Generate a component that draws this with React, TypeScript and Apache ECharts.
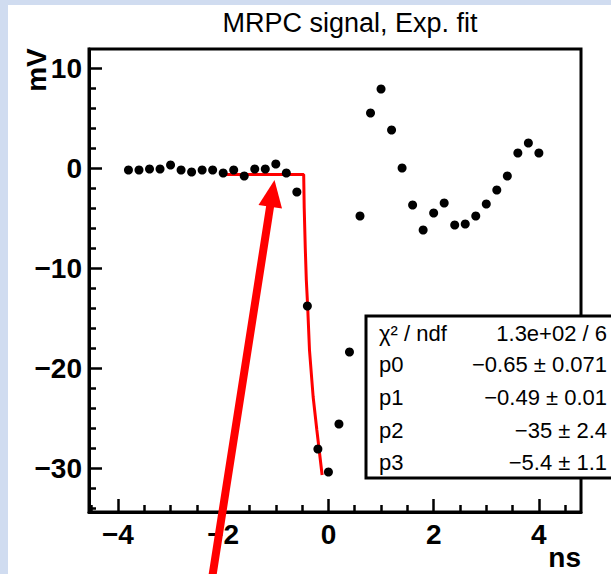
import React, { useEffect, useRef } from "react";
import * as echarts from "echarts";

// ---- data ----
const xValues = [
  -3.8, -3.6, -3.4, -3.2, -3.0, -2.8, -2.6, -2.4, -2.2, -2.0,
  -1.8, -1.6, -1.4, -1.2, -1.0, -0.8, -0.6, -0.4, -0.2, 0.0,
  0.2, 0.4, 0.6, 0.8, 1.0, 1.2, 1.4, 1.6, 1.8, 2.0,
  2.2, 2.4, 2.6, 2.8, 3.0, 3.2, 3.4, 3.6, 3.8, 4.0,
];
const yValues = [
  -0.2, -0.2, -0.1, -0.1, 0.3, -0.2, -0.4, -0.2, -0.2, -0.5,
  -0.2, -0.8, -0.1, -0.1, 0.4, -0.5, -2.4, -13.8, -28.1, -30.4,
  -25.6, -18.4, -4.8, 5.5, 7.9, 3.8, 0.0, -3.7, -6.2, -4.5,
  -3.5, -5.7, -5.6, -4.8, -3.6, -2.2, -0.8, 1.5, 2.5, 1.5,
];
const fitX = [-1.95, -0.47, -0.46, -0.44, -0.42, -0.395, -0.36, -0.29, -0.22, -0.12];
const fitY = [-0.65, -0.65, -4.0, -8.0, -11.2, -13.8, -18.2, -22.9, -26.2, -30.7];

const xMajorTicks = [-4, -2, 0, 2, 4];
const xMinorTicks = [-4.5, -3.5, -3, -2.5, -1.5, -1, -0.5, 0.5, 1, 1.5, 2.5, 3, 3.5, 4.5];
const yMajorTicks = [-30, -20, -10, 0, 10];
const yMinorTicks = [-34, -32, -28, -26, -24, -22, -18, -16, -14, -12, -8, -6, -4, -2, 2, 4, 6, 8];

const titleText = "MRPC signal, Exp. fit";
const xAxisTitle = "ns";
const yAxisTitle = "mV";
const statLabels = ["χ² / ndf", "p0", "p1", "p2", "p3"];
const statValues = ["1.3e+02 / 6", "−0.65 ± 0.071", "−0.49 ± 0.01", "−35 ± 2.4", "−5.4 ± 1.1"];

const X_MIN = -4.55;
const X_MAX = 4.8;
const Y_MIN = -34.4;
const Y_MAX = 11.9;

const FONT = "'Liberation Sans', Arial, Helvetica, sans-serif";

const fmt = (v: number) => (v < 0 ? "\u2212" + Math.abs(v) : String(v));

export default function App() {
  const ref = useRef<HTMLDivElement>(null);

  useEffect(() => {
    if (!ref.current) return;
    const chart = echarts.init(ref.current, undefined, { renderer: "svg" });

    const tickLine = { color: "#000", width: 2.5 };
    const labelStyle = {
      color: "#000",
      fontSize: 28,
      fontWeight: "bold" as const,
      fontFamily: FONT,
    };

    const statRowsY = [333, 364, 397, 430, 462];

    const graphics: any[] = [
      { type: "rect", z: 0, shape: { x: 0, y: 0, width: 8, height: 574 }, style: { fill: "#d0dcf0" } },
      { type: "rect", z: 0, shape: { x: 0, y: 0, width: 611, height: 5 }, style: { fill: "#d0dcf0" } },
      {
        type: "text",
        z: 100,
        x: 350,
        y: 23,
        style: {
          text: titleText,
          fill: "#000",
          font: `normal 27px ${FONT}`,
          align: "center",
          verticalAlign: "middle",
        },
      },
      {
        type: "text",
        z: 100,
        x: 36,
        y: 70,
        rotation: Math.PI / 2,
        style: {
          text: yAxisTitle,
          fill: "#000",
          font: `bold 28px ${FONT}`,
          align: "center",
          verticalAlign: "middle",
        },
      },
      {
        type: "text",
        z: 100,
        x: 581,
        y: 557,
        style: {
          text: xAxisTitle,
          fill: "#000",
          font: `bold 28px ${FONT}`,
          align: "right",
          verticalAlign: "middle",
        },
      },
      {
        type: "rect",
        z: 100,
        shape: { x: 366, y: 316, width: 270, height: 162 },
        style: { fill: "#fff", stroke: "#000", lineWidth: 3 },
      },
    ];
    statLabels.forEach((t, i) => {
      graphics.push({
        type: "text",
        z: 101,
        x: 379,
        y: statRowsY[i],
        style: { text: t, fill: "#000", font: `normal 22px ${FONT}`, align: "left", verticalAlign: "middle" },
      });
      graphics.push({
        type: "text",
        z: 101,
        x: 607,
        y: statRowsY[i],
        style: { text: statValues[i], fill: "#000", font: `normal 22px ${FONT}`, align: "right", verticalAlign: "middle" },
      });
    });
    graphics.push({
      type: "line",
      z: 110,
      shape: { x1: 211, y1: 585, x2: 270.5, y2: 204 },
      style: { stroke: "#ff0000", lineWidth: 8 },
    });
    graphics.push({
      type: "polygon",
      z: 110,
      shape: { points: [[274.5, 180], [258.5, 205], [282, 208.5]] },
      style: { fill: "#ff0000" },
    });

    const option: any = {
      animation: false,
      backgroundColor: "#ffffff",
      grid: {
        left: 89,
        top: 49,
        width: 492,
        height: 463,
        show: true,
        borderColor: "#000",
        borderWidth: 3,
        backgroundColor: "transparent",
      },
      xAxis: [
        {
          type: "value",
          min: X_MIN,
          max: X_MAX,
          position: "bottom",
          axisLine: { show: true, onZero: false, lineStyle: { color: "#000", width: 3 } },
          axisTick: { show: true, inside: true, length: 13, lineStyle: tickLine, customValues: xMajorTicks },
          axisLabel: { show: true, customValues: xMajorTicks, formatter: fmt, margin: 8, ...labelStyle },
          splitLine: { show: false },
        },
        {
          type: "value",
          min: X_MIN,
          max: X_MAX,
          position: "bottom",
          axisLine: { show: false, onZero: false },
          axisTick: { show: true, inside: true, length: 7, lineStyle: tickLine, customValues: xMinorTicks },
          axisLabel: { show: false },
          splitLine: { show: false },
        },
      ],
      yAxis: [
        {
          type: "value",
          min: Y_MIN,
          max: Y_MAX,
          position: "left",
          axisLine: { show: true, onZero: false, lineStyle: { color: "#000", width: 3 } },
          axisTick: { show: true, inside: true, length: 13, lineStyle: tickLine, customValues: yMajorTicks },
          axisLabel: { show: true, customValues: yMajorTicks, formatter: fmt, margin: 7, ...labelStyle },
          splitLine: { show: false },
        },
        {
          type: "value",
          min: Y_MIN,
          max: Y_MAX,
          position: "left",
          axisLine: { show: false, onZero: false },
          axisTick: { show: true, inside: true, length: 7, lineStyle: tickLine, customValues: yMinorTicks },
          axisLabel: { show: false },
          splitLine: { show: false },
        },
      ],
      series: [
        {
          type: "line",
          xAxisIndex: 0,
          yAxisIndex: 0,
          data: fitX.map((x, i) => [x, fitY[i]]),
          symbol: "none",
          showSymbol: false,
          lineStyle: { color: "#ff0000", width: 3 },
          z: 2,
          silent: true,
        },
        {
          type: "scatter",
          xAxisIndex: 0,
          yAxisIndex: 0,
          data: xValues.map((x, i) => [x, yValues[i]]),
          symbol: "circle",
          symbolSize: 9,
          itemStyle: { color: "#000", opacity: 1 },
          z: 3,
        },
      ],
      graphic: graphics,
    };

    chart.setOption(option);
    return () => chart.dispose();
  }, []);

  return (
    <div
      ref={ref}
      style={{ position: "fixed", left: 0, top: 0, width: 611, height: 574 }}
    />
  );
}
